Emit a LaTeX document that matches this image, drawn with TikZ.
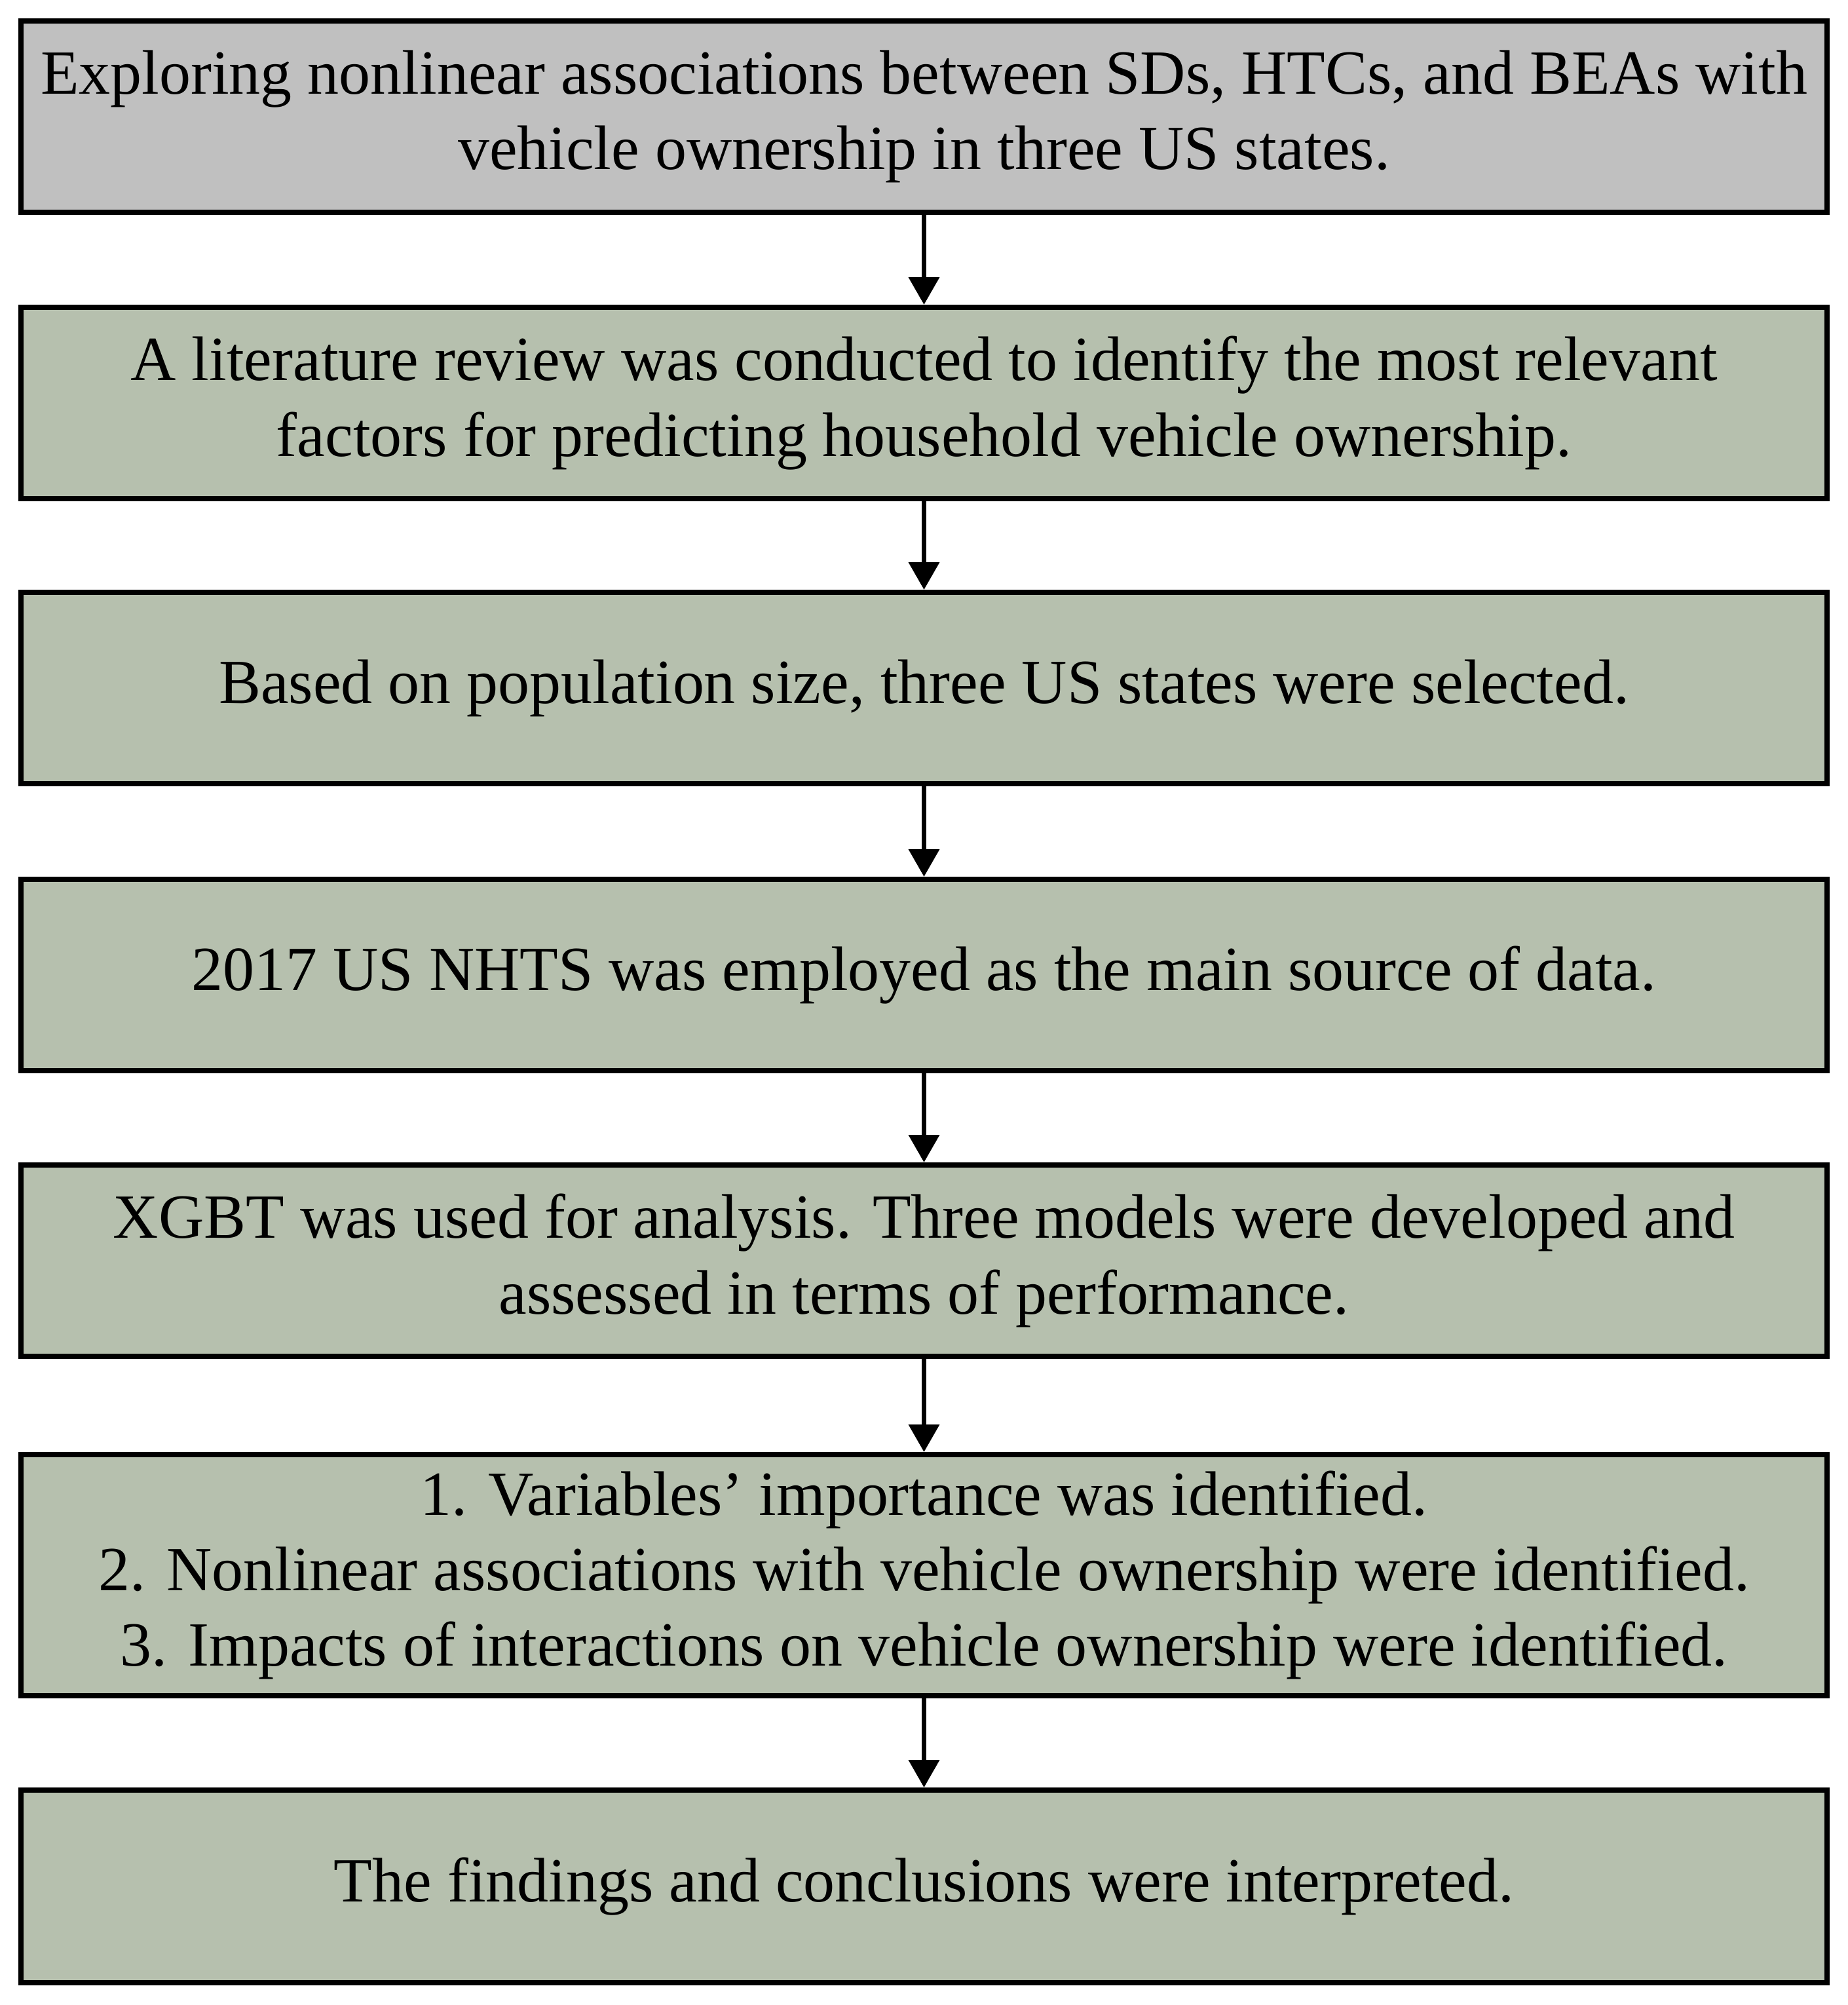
\documentclass[tikz,border=0pt]{standalone}
\usepackage{fontspec}
\setmainfont{Liberation Serif}
\usetikzlibrary{arrows.meta}
\definecolor{topgray}{HTML}{C0C0C0}
\definecolor{sage}{HTML}{B6C0AE}
\tikzset{
  stepbox/.style={draw=black, line width=0.08cm, rectangle, minimum width=27.57cm,
    minimum height=2.92cm, inner sep=0pt, align=center,
    font=\fontsize{27.3}{32.8}\selectfont, fill=sage},
  flowarrow/.style={line width=0.07cm, -{Triangle[width=0.46cm,length=0.42cm]}}
}
\begin{document}
\begin{tikzpicture}
\useasboundingbox (0,0) rectangle (28.21,-30.60);
\node[stepbox, fill=topgray] (b1) at (14.105,-1.78) {Exploring nonlinear associations between SDs, HTCs, and BEAs with\\vehicle ownership in three US states.};
\node[stepbox] (b2) at (14.105,-6.15) {A literature review was conducted to identify the most relevant\\factors for predicting household vehicle ownership.};
\node[stepbox] (b3) at (14.105,-10.50) {Based on population size, three US states were selected.};
\node[stepbox] (b4) at (14.105,-14.88) {2017 US NHTS was employed as the main source of data.};
\node[stepbox] (b5) at (14.105,-19.24) {XGBT was used for analysis. Three models were developed and\\assessed in terms of performance.};
\node[stepbox, minimum height=3.68cm] (b6) at (14.105,-24.04) {1. Variables’ importance was identified.\\2. Nonlinear associations with vehicle ownership were identified.\\3. Impacts of interactions on vehicle ownership were identified.};
\node[stepbox, minimum height=2.94cm] (b7) at (14.105,-28.79) {The findings and conclusions were interpreted.};
\draw[flowarrow] (b1) -- (b2);
\draw[flowarrow] (b2) -- (b3);
\draw[flowarrow] (b3) -- (b4);
\draw[flowarrow] (b4) -- (b5);
\draw[flowarrow] (b5) -- (b6);
\draw[flowarrow] (b6) -- (b7);
\end{tikzpicture}
\end{document}
